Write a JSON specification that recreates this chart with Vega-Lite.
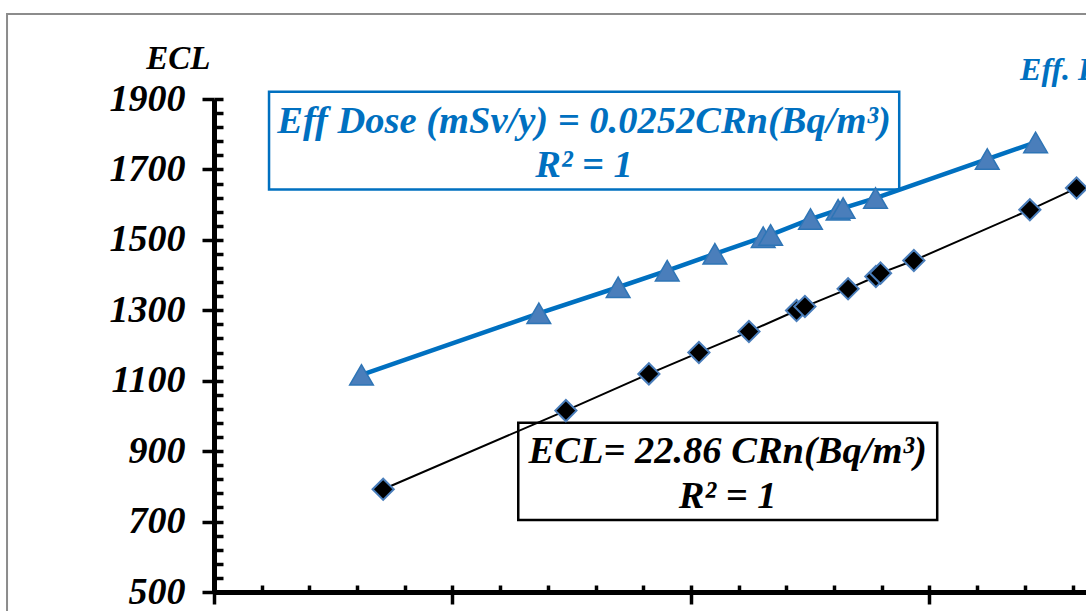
{
  "$schema": "https://vega.github.io/schema/vega-lite/v6.json",
  "width": 872,
  "height": 493,
  "autosize": {"type": "none"},
  "padding": {"left": 214, "top": 99, "right": 0, "bottom": 19},
  "background": "white",
  "config": {"view": {"stroke": null}, "font": "Liberation Serif"},
  "datasets": {
    "ecl": [
      {"CRn": 34.63, "ECL": 791.7},
      {"CRn": 44.49, "ECL": 1015.1},
      {"CRn": 48.97, "ECL": 1119.4},
      {"CRn": 51.67, "ECL": 1179.9},
      {"CRn": 54.37, "ECL": 1239.6},
      {"CRn": 56.94, "ECL": 1299.3},
      {"CRn": 57.39, "ECL": 1310.6},
      {"CRn": 59.72, "ECL": 1360.9},
      {"CRn": 61.22, "ECL": 1395.9},
      {"CRn": 61.47, "ECL": 1405.5},
      {"CRn": 63.27, "ECL": 1441.3},
      {"CRn": 69.53, "ECL": 1585.4},
      {"CRn": 72.05, "ECL": 1647.1}
    ],
    "dose": [
      {"CRn": 33.46, "Dose": 0.850},
      {"CRn": 43.03, "Dose": 1.091},
      {"CRn": 47.31, "Dose": 1.193},
      {"CRn": 49.96, "Dose": 1.258},
      {"CRn": 52.53, "Dose": 1.324},
      {"CRn": 55.14, "Dose": 1.389},
      {"CRn": 55.54, "Dose": 1.398},
      {"CRn": 57.69, "Dose": 1.460},
      {"CRn": 59.18, "Dose": 1.496},
      {"CRn": 59.45, "Dose": 1.503},
      {"CRn": 61.20, "Dose": 1.542},
      {"CRn": 67.23, "Dose": 1.695},
      {"CRn": 69.84, "Dose": 1.760}
    ],
    "boxes": [
      {"box": "dose", "x1": 28.47, "x2": 62.48, "y1": 1643, "y2": 1920.7},
      {"box": "ecl", "x1": 41.92, "x2": 64.53, "y1": 704.5, "y2": 980.8}
    ],
    "notes": [
      {"box": "dose", "CRn": 45.47, "ECL": 1803.5, "text": "Eff Dose (mSv/y) = 0.0252CRn(Bq/m³)"},
      {"box": "dose", "CRn": 45.47, "ECL": 1678.5, "text": "R² = 1"},
      {"box": "ecl", "CRn": 53.22, "ECL": 867.7, "text": "ECL= 22.86 CRn(Bq/m³)"},
      {"box": "ecl", "CRn": 53.22, "ECL": 738.5, "text": "R² = 1"}
    ]
  },
  "layer": [
    {
      "layer": [
        {
          "data": {"values": [{}]},
          "mark": {"type": "rect", "filled": false, "color": "#8c8c8c", "strokeWidth": 2, "clip": false},
          "encoding": {
            "x": {"datum": 14.33, "type": "quantitative", "scale": {"domain": [25.5, 72.56], "nice": false, "zero": false}, "axis": null},
            "x2": {"datum": 90},
            "y": {"datum": 2141.4, "type": "quantitative", "scale": {"domain": [500, 1900], "nice": false, "zero": false}, "axis": null},
            "y2": {"datum": 200}
          }
        },
        {
          "data": {"name": "boxes"},
          "mark": {"type": "rect", "fill": "white", "strokeWidth": 2.5, "clip": false},
          "encoding": {
            "x": {"field": "x1", "type": "quantitative", "scale": {"domain": [25.5, 72.56], "nice": false, "zero": false}, "axis": null},
            "x2": {"field": "x2"},
            "y": {"field": "y1", "type": "quantitative", "scale": {"domain": [500, 1900], "nice": false, "zero": false}, "axis": null},
            "y2": {"field": "y2"},
            "stroke": {"field": "box", "type": "nominal", "scale": {"domain": ["dose", "ecl"], "range": ["#0070c0", "#000000"]}, "legend": null}
          }
        },
        {
          "data": {"name": "ecl"},
          "mark": {"type": "line", "color": "black", "strokeWidth": 2},
          "encoding": {
            "x": {"field": "CRn", "type": "quantitative", "scale": {"domain": [25.5, 72.56], "nice": false, "zero": false},
              "axis": {"orient": "bottom", "values": [25.5, 28.074, 30.648, 33.222, 35.796, 38.37, 40.944, 43.518, 46.092, 48.666, 51.24, 53.814, 56.388, 58.962, 61.536, 64.11, 66.684, 69.258, 71.832],
                "labels": false, "title": null, "grid": false, "tickSize": -7, "tickWidth": 3.5, "tickColor": "black", "domainColor": "black", "domainWidth": 5}},
            "y": {"field": "ECL", "type": "quantitative", "scale": {"domain": [500, 1900], "nice": false, "zero": false},
              "axis": {"orient": "left", "values": [500, 540, 580, 620, 660, 700, 740, 780, 820, 860, 900, 940, 980, 1020, 1060, 1100, 1140, 1180, 1220, 1260, 1300, 1340, 1380, 1420, 1460, 1500, 1540, 1580, 1620, 1660, 1700, 1740, 1780, 1820, 1860, 1900],
                "labels": false, "title": null, "grid": false, "tickSize": -9, "tickWidth": 3.5, "tickColor": "black", "domainColor": "black", "domainWidth": 5}}
          }
        },
        {
          "data": {"name": "ecl"},
          "mark": {"type": "point", "shape": "diamond", "size": 450, "filled": true, "fill": "black", "stroke": "#4a7ebb", "strokeWidth": 2, "opacity": 1},
          "encoding": {
            "x": {"field": "CRn", "type": "quantitative", "scale": {"domain": [25.5, 72.56], "nice": false, "zero": false},
              "axis": {"orient": "bottom", "values": [25.5, 38.37, 51.24, 64.11], "labels": false, "title": null, "grid": false, "domain": false, "tickSize": 12, "tickWidth": 3.5, "tickColor": "black"}},
            "y": {"field": "ECL", "type": "quantitative", "scale": {"domain": [500, 1900], "nice": false, "zero": false},
              "axis": {"orient": "left", "values": [500, 700, 900, 1100, 1300, 1500, 1700, 1900], "format": "d", "grid": false, "domain": false,
                "tickSize": 12, "tickWidth": 3.5, "tickColor": "black",
                "labelFont": "Liberation Serif", "labelFontSize": 38, "labelFontWeight": "bold", "labelFontStyle": "italic", "labelColor": "black", "labelPadding": 17,
                "title": "ECL", "titleAngle": 0, "titleAlign": "right", "titleBaseline": "alphabetic", "titleX": -4, "titleY": -31,
                "titleFont": "Liberation Serif", "titleFontSize": 33, "titleFontWeight": "bold", "titleFontStyle": "italic", "titleColor": "black"}}
          }
        },
        {
          "data": {"name": "notes"},
          "mark": {"type": "text", "font": "Liberation Serif", "fontSize": 38.5, "fontWeight": "bold", "fontStyle": "italic", "align": "center", "baseline": "alphabetic", "clip": false},
          "encoding": {
            "x": {"field": "CRn", "type": "quantitative", "scale": {"domain": [25.5, 72.56], "nice": false, "zero": false}, "axis": null},
            "y": {"field": "ECL", "type": "quantitative", "scale": {"domain": [500, 1900], "nice": false, "zero": false}, "axis": null},
            "text": {"field": "text"},
            "color": {"field": "box", "type": "nominal", "scale": {"domain": ["dose", "ecl"], "range": ["#0070c0", "#000000"]}, "legend": null}
          }
        },
        {
          "data": {"values": [{}]},
          "mark": {"type": "text", "font": "Liberation Serif", "fontSize": 32, "fontWeight": "bold", "fontStyle": "italic", "align": "left", "baseline": "alphabetic", "color": "#0070c0", "clip": false},
          "encoding": {
            "x": {"datum": 69.0, "type": "quantitative", "scale": {"domain": [25.5, 72.56], "nice": false, "zero": false}, "axis": null},
            "y": {"datum": 1954, "type": "quantitative", "scale": {"domain": [500, 1900], "nice": false, "zero": false}, "axis": null},
            "text": {"value": "Eff. Dose (mSv/y)"}
          }
        }
      ],
      "resolve": {"axis": {"x": "independent", "y": "independent"}}
    },
    {
      "layer": [
        {
          "data": {"name": "dose"},
          "mark": {"type": "line", "color": "#0070c0", "strokeWidth": 4.5},
          "encoding": {
            "x": {"field": "CRn", "type": "quantitative", "scale": {"domain": [25.5, 72.56], "nice": false, "zero": false}, "axis": null},
            "y": {"field": "Dose", "type": "quantitative", "scale": {"domain": [0, 1.93], "nice": false, "zero": false},
              "axis": {"orient": "right", "title": null, "domain": false, "grid": false, "values": [0, 0.5, 1, 1.5], "labelColor": "#0070c0"}}
          }
        },
        {
          "data": {"name": "dose"},
          "mark": {"type": "point", "shape": "triangle-up", "size": 560, "filled": true, "fill": "#4a7ebb", "stroke": "#2e75b6", "strokeWidth": 1.5, "opacity": 1},
          "encoding": {
            "x": {"field": "CRn", "type": "quantitative", "scale": {"domain": [25.5, 72.56], "nice": false, "zero": false}, "axis": null},
            "y": {"field": "Dose", "type": "quantitative", "scale": {"domain": [0, 1.93], "nice": false, "zero": false}, "axis": null}
          }
        }
      ]
    }
  ],
  "resolve": {"scale": {"y": "independent"}, "axis": {"x": "independent", "y": "independent"}}
}
